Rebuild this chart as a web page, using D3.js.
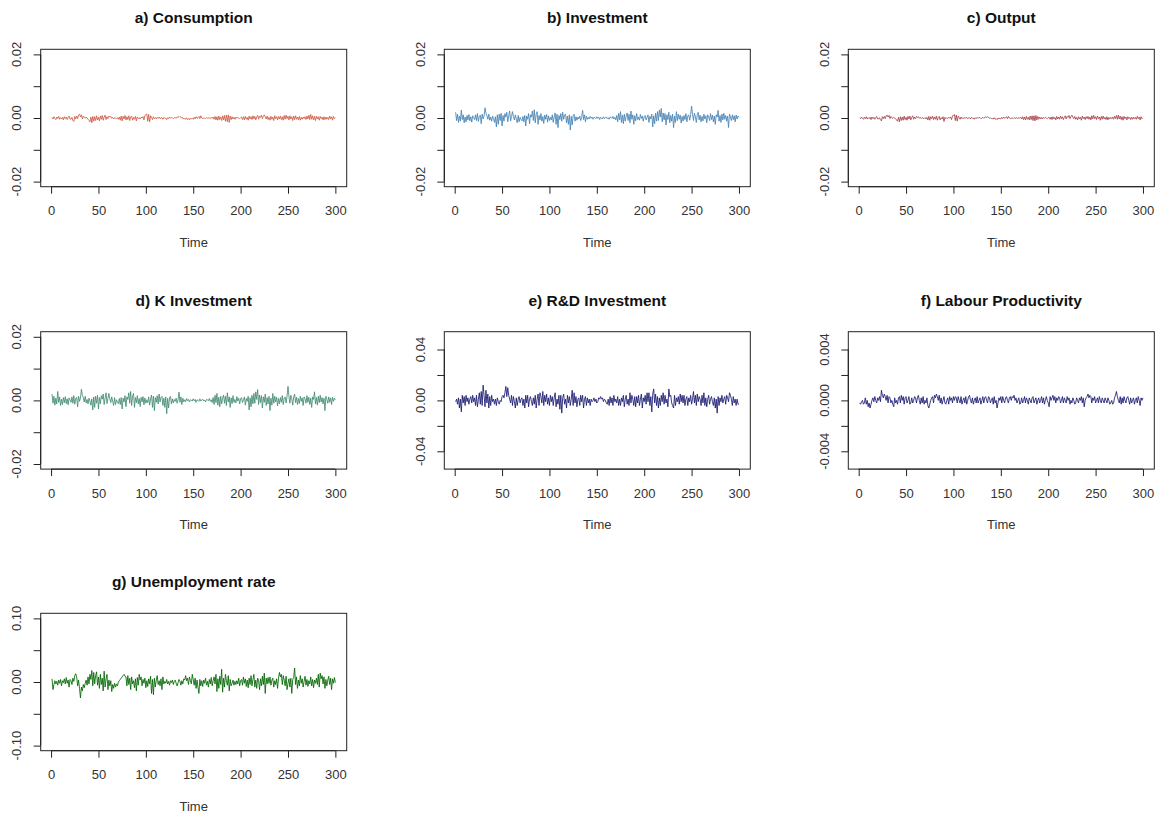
<!DOCTYPE html>
<html><head><meta charset="utf-8">
<script src="https://cdn.jsdelivr.net/npm/d3@7"></script>
<style>
body{margin:0;background:#fff;}
text{font-family:"Liberation Sans",Arial,Helvetica,sans-serif;}
</style>
</head><body>
<svg id="chart" width="1161" height="821"></svg>
<script>
// ---------------- DATA ----------------
const timeFirst = 1, timeLast = 300;
const xTicks = [0, 50, 100, 150, 200, 250, 300];

// a) Consumption, units of 1e-4
const consumptionUnit = 1e-4;
const consumption = [
2,-3,4,-1,-5,3,-2,5,-4,1,
-3,2,-6,4,-2,3,-5,1,6,-3,
-4,2,-8,-11,5,-3,6,-2,9,12,
4,10,-3,6,2,-1,3,0,-4,-7,
-12,3,-15,5,-10,4,-8,7,-6,2,
-9,6,-4,8,-7,3,9,-5,4,-2,
6,3,5,-1,2,-3,1,0,-2,1,
-4,3,-7,6,-9,5,-3,8,-6,4,
-5,7,-8,3,6,-7,2,-4,5,-9,
3,-2,1,-3,2,0,4,-6,8,10,
13,-10,11,-12,7,2,-5,4,-2,1,
-3,2,-1,3,-2,0,1,-4,2,-1,
0,-5,1,-2,3,-1,2,1,-2,0,
2,-1,3,4,2,5,3,-1,1,-3,
-2,-4,1,-5,-2,-6,0,-3,-1,-4,
2,-3,4,-1,1,5,-2,7,0,-2,
-1,0,-2,1,-1,0,1,-2,2,-1,
3,-4,5,-6,4,-7,6,-5,3,-8,
7,-6,8,-10,9,-12,10,-14,6,-5,
4,-3,2,-4,3,-1,2,0,-2,1,
3,-5,4,-6,5,-4,2,-7,6,-3,
4,-5,7,-3,5,-6,3,8,-4,6,
2,9,-2,5,10,4,-3,6,-5,2,
-7,5,-4,3,-8,7,-2,4,-6,5,
-3,6,-5,4,-7,8,-4,9,-2,5,
-6,7,-3,4,-8,6,-5,7,-4,3,
-6,5,-7,2,-4,3,-2,4,-5,6,
-3,9,-5,11,-4,7,-6,5,-8,6,
-3,4,-7,5,-2,3,-6,4,-5,3,
-4,2,-5,6,-3,4,-7,5,-2,1];

// b) Investment, units of 1e-4
const investmentUnit = 1e-4;
const investment = [
18,-8,12,-14,6,-10,25,-5,10,-15,
3,-12,8,-6,11,-9,4,-13,7,2,
-5,10,-8,14,-11,5,9,-18,12,-3,
6,32,15,8,-4,12,-7,3,-10,6,
-2,-14,4,-28,10,-20,12,-8,15,-25,
8,-10,14,3,18,-12,6,22,-9,5,
20,4,-6,10,-3,-15,8,-12,2,-5,
-9,5,-12,8,-25,6,-4,14,-18,10,
3,22,-8,26,-15,12,20,-20,8,-6,
14,-10,5,-17,9,-4,11,-13,7,-8,
2,-6,10,-14,4,16,-20,12,-30,8,
-5,14,-10,18,-4,9,12,-15,6,-20,
10,-38,5,-22,8,12,-10,4,-7,3,
-3,6,-8,2,24,-5,10,-12,6,-4,
2,-3,5,-1,3,-4,2,1,-2,4,
-1,3,-5,2,0,-3,4,-2,1,3,
-2,1,-4,3,2,-1,5,-3,2,-6,
8,-12,15,-6,20,-14,9,-18,12,-10,
6,16,-8,12,-15,22,-4,10,-20,7,
-9,14,-5,3,-7,11,-2,6,-10,4,
8,-6,2,10,-14,5,-3,12,-28,7,
-18,15,-10,20,-8,25,3,30,-12,16,
-6,14,-22,10,-5,18,-15,8,-10,12,
-30,6,-14,20,-8,12,-4,9,-16,5,
-10,8,-5,14,-12,6,10,-7,11,37,
12,-8,15,4,-14,10,18,-6,9,-12,
5,-9,12,-3,7,-15,10,4,-8,14,
-5,9,-12,6,-20,10,3,24,-10,8,
-14,12,-6,15,-4,8,-10,6,-30,12,
3,-8,10,-5,7,-12,9,-3,6,2];

// c) Output, units of 1e-4
const outputUnit = 1e-4;
const output = [
1,-2,3,-1,-4,2,-2,4,-3,1,
-2,2,-5,3,-2,2,-4,1,5,-3,
-3,1,-6,-9,4,-2,5,-2,7,9,
3,8,-2,5,1,-1,2,0,-3,-6,
-10,2,-12,4,-8,3,-7,6,-5,2,
-7,5,-3,6,-6,2,7,-4,3,-2,
5,2,4,-1,2,-2,1,0,-2,1,
-3,2,-6,5,-7,4,-2,6,-5,3,
-4,6,-7,2,5,-6,1,-3,4,-11,
2,-2,1,-2,2,0,3,-5,7,8,
11,-8,9,-10,6,2,-4,3,-2,1,
-2,2,-1,2,-2,0,1,-3,2,-1,
0,-4,1,-2,2,-1,2,1,-2,0,
2,-1,2,3,2,4,2,-1,1,-2,
-2,-3,1,-4,-2,-5,0,-2,-1,-3,
2,-2,3,-1,1,4,-2,5,0,-2,
-1,0,-2,1,-1,0,1,-2,2,-1,
2,-3,4,-5,3,-6,5,-4,2,-6,
6,-5,7,-8,7,-9,8,-6,5,-4,
3,-3,2,-3,2,-1,2,0,-2,1,
2,-4,3,-5,4,-3,2,-6,5,-3,
3,-4,6,-2,4,-5,2,7,-3,5,
2,8,-2,4,9,3,-2,5,-4,2,
-6,4,-3,2,-7,6,-2,3,-5,4,
-2,5,-4,3,-6,7,-3,8,-2,4,
-5,6,-2,3,-7,5,-4,6,-3,2,
-5,4,-6,2,-3,2,-2,3,-4,5,
-2,8,-4,9,-3,6,-5,4,-7,5,
-2,3,-6,4,-2,2,-5,3,-4,2,
-3,2,-4,5,-2,3,-6,4,-2,1];

// d) K Investment, units of 1e-4
const kInvestmentUnit = 1e-4;
const kInvestment = [
20,-9,13,-15,7,-11,28,-6,11,-16,
4,-13,9,-7,12,-10,5,-14,8,2,
-6,11,-9,15,-12,6,10,-20,13,-3,
7,35,16,9,-5,13,-8,3,-11,7,
-2,-15,5,-30,11,-22,13,-9,16,-27,
9,-11,15,4,20,-13,7,24,-10,6,
22,5,-7,11,-3,-16,9,-13,2,-6,
-10,6,-13,9,-27,7,-5,15,-20,11,
3,24,-9,28,-16,13,22,-22,9,-7,
15,-11,6,-19,10,-5,12,-14,8,-9,
2,-7,11,-15,5,17,-22,13,-32,9,
-6,15,-11,20,-5,10,13,-16,7,-22,
11,-42,6,-24,9,13,-11,5,-8,3,
-3,7,-9,2,26,-6,11,-13,7,-5,
2,-4,6,-1,3,-5,2,1,-2,5,
-1,3,-6,2,0,-3,5,-2,1,4,
-2,1,-5,3,2,-1,6,-3,2,-7,
9,-13,16,-7,22,-15,10,-20,13,-11,
7,17,-9,13,-16,24,-5,11,-22,8,
-10,15,-6,3,-8,12,-2,7,-11,5,
9,-7,2,11,-15,6,-3,13,-30,8,
-20,16,-11,22,-9,27,3,34,-13,17,
-7,15,-24,11,-6,20,-16,9,-11,13,
-32,7,-15,22,-9,13,-5,10,-17,6,
-11,9,-6,15,-13,7,11,-8,12,44,
13,-9,16,5,-15,11,20,-7,10,-13,
6,-10,13,-3,8,-16,11,5,-9,15,
-6,10,-13,7,-22,11,3,27,-11,9,
-15,13,-7,16,-5,9,-11,7,-32,13,
3,-9,11,-6,8,-13,10,-3,7,2];

// e) R&D Investment, units of 1e-3
const rdInvestmentUnit = 1e-3;
const rdInvestment = [
-1,1,-3,2,-6,1,-9,4,-2,3,
-4,4,-1,2,-3,1,3,-2,4,-1,
2,-4,4,-5,1,6,-3,7,-4,12,
4,-5,8,-2,5,-6,3,-4,4,-1,
1,-3,1,-4,2,-1,-3,0,-1,3,
4,2,6,11,3,10,4,1,-2,4,
-4,3,-1,-6,2,-4,1,3,-2,1,
2,-4,1,-6,4,-2,4,-5,1,3,
-1,-4,2,-3,4,-6,1,5,-4,6,
3,-2,7,-4,4,-1,5,-3,2,-4,
4,-1,3,-4,2,6,-5,1,-3,4,
-7,4,-10,2,5,-3,1,-6,4,-2,
3,-4,1,8,-4,6,-2,3,-5,1,
2,-4,4,-1,4,-6,1,3,-4,2,
-2,1,-4,1,-1,0,2,-1,1,-2,
-1,2,1,3,1,2,-1,1,0,-2,
-3,1,-4,3,-2,2,-4,4,-1,1,
-2,3,-4,1,-4,2,-1,4,-5,1,
4,-3,1,-4,6,-2,4,1,-4,3,
-5,3,-2,4,-4,1,5,-6,2,-1,
4,-3,6,-1,6,-4,3,-9,5,9,
-2,5,-4,3,-6,2,-4,4,-1,6,
-3,4,-2,1,-5,9,3,4,-2,-4,
-6,4,-4,2,-1,3,-3,5,-1,4,
-2,4,-4,1,3,-4,2,-1,4,-3,
1,7,-2,4,-4,5,-1,3,1,-4,
4,-2,6,-4,2,-5,1,4,-3,1,
3,-1,-4,2,-6,1,-10,3,-4,2,
-1,4,-2,1,3,-3,4,2,-1,6,
4,1,-4,3,-2,1,-4,1,-3,-3];

// f) Labour Productivity, units of 1e-4
const labourProductivityUnit = 1e-4;
const labourProductivity = [
-2,-3,-1,0,-3,-2,2,-3,0,-5,
-2,-6,-3,0,2,-1,3,0,-2,2,
0,3,-1,8,4,2,5,3,0,4,
-2,3,2,-2,0,-3,-5,2,-2,0,
-3,2,3,-2,4,0,3,-3,2,3,
-2,0,3,-3,-2,2,-2,0,3,2,
-2,2,4,0,-3,2,-2,3,-3,0,
-2,2,-4,-6,-3,0,2,3,-2,4,
2,5,3,0,4,-2,2,-3,0,3,
-2,-3,0,2,-3,3,0,2,-2,3,
0,3,2,-2,3,0,-2,3,-3,0,
2,-2,3,-3,0,3,4,0,-2,2,
-3,0,2,-2,3,-2,0,2,-3,0,
3,-2,2,3,0,-2,3,2,-2,0,
2,-3,3,-2,0,-6,-2,2,0,3,
-2,3,0,-2,2,3,0,-2,2,3,
0,3,2,4,0,2,-2,0,2,-3,
-2,2,-2,0,3,-2,2,0,-3,2,
0,-2,2,3,-2,0,2,-3,0,2,
-2,0,3,-2,2,-3,0,3,0,-2,
-5,3,0,2,4,0,3,-2,2,0,
3,2,-2,0,3,-2,2,0,-2,3,
0,2,-3,0,-2,2,0,-3,-2,2,
0,-2,2,0,3,-2,2,-5,0,2,
3,5,2,4,3,-2,2,0,3,-2,
0,2,-2,3,0,-2,2,0,-2,2,
0,-2,2,0,-3,-2,0,-3,-2,2,
4,7,3,0,-2,3,-3,2,-2,3,
0,-2,2,3,0,-3,2,-2,0,2,
-3,0,2,-2,3,0,-4,2,0,2];

// g) Unemployment rate, units of 1e-3
const unemploymentUnit = 1e-3;
const unemployment = [
5,-12,-4,2,-3,1,-5,3,-2,4,
-6,2,-1,5,-3,7,-2,3,-8,4,
2,-4,6,1,10,13,8,-6,3,-10,
-25,-8,-14,-4,-9,-2,3,-5,8,-3,
12,4,18,-6,15,-3,10,16,-5,8,
-10,12,-4,6,-14,17,-8,5,12,-12,
3,-6,2,-15,-4,-10,-2,-8,-3,-6,
0,2,4,6,8,10,12,9,8,-6,
10,-4,6,-12,8,-3,2,-9,5,-14,
7,-5,12,3,8,-6,4,-2,6,-9,
2,-7,5,-3,9,-18,4,-20,6,-8,
3,10,-4,2,-6,5,-12,8,-3,1,
-2,4,-3,1,-5,2,-1,3,-4,1,
3,-2,-6,-1,4,1,-5,2,-3,5,
3,10,2,6,-4,8,2,-3,12,4,
-5,6,-10,3,-8,-18,4,-6,2,-7,
3,-2,6,-5,1,-8,4,-3,7,-6,
2,8,-3,12,-15,5,-10,9,-4,20,
-16,6,-8,12,2,-5,10,-14,4,-6,
-2,3,-5,1,-4,2,-3,6,-6,2,
4,-5,8,-2,5,-7,3,-9,6,-4,
10,-6,4,12,-8,3,-10,6,2,-12,
5,-6,9,-4,14,-18,6,-3,7,-2,
8,-5,3,6,-8,2,-4,5,-10,6,
15,8,12,-4,10,3,-6,9,-12,-2,
5,-8,6,-18,4,7,22,-4,8,-10,
3,-6,10,-2,5,-8,1,9,-5,4,
-7,2,-3,8,-6,4,-9,3,-2,6,
-4,12,-8,14,5,10,-3,8,-10,4,
-6,3,9,-4,6,-12,5,-2,7,-1];

// y axis limits, tick values and tick labels per panel
const ylimSmall = [-0.02, 0.02];
const ticksSmall = [-0.02, -0.01, 0, 0.01, 0.02];
const labelsSmall = {"-0.02": "-0.02", "0": "0.00", "0.02": "0.02"};
const ylimRD = [-0.05, 0.05];
const ticksRD = [-0.04, -0.02, 0, 0.02, 0.04];
const labelsRD = {"-0.04": "-0.04", "0": "0.00", "0.04": "0.04"};
const ylimLP = [-0.005, 0.005];
const ticksLP = [-0.004, -0.002, 0, 0.002, 0.004];
const labelsLP = {"-0.004": "-0.004", "0": "0.000", "0.004": "0.004"};
const ylimU = [-0.1, 0.1];
const ticksU = [-0.1, -0.05, 0, 0.05, 0.1];
const labelsU = {"-0.1": "-0.10", "0": "0.00", "0.1": "0.10"};

const panels = [
  {title: "a) Consumption", values: consumption, unit: consumptionUnit, color: "#CD5B45", ylim: ylimSmall, ticks: ticksSmall, labels: labelsSmall, col: 0, row: 0},
  {title: "b) Investment", values: investment, unit: investmentUnit, color: "#4682B4", ylim: ylimSmall, ticks: ticksSmall, labels: labelsSmall, col: 1, row: 0},
  {title: "c) Output", values: output, unit: outputUnit, color: "#A8414A", ylim: ylimSmall, ticks: ticksSmall, labels: labelsSmall, col: 2, row: 0},
  {title: "d) K Investment", values: kInvestment, unit: kInvestmentUnit, color: "#458B74", ylim: ylimSmall, ticks: ticksSmall, labels: labelsSmall, col: 0, row: 1},
  {title: "e) R&D Investment", values: rdInvestment, unit: rdInvestmentUnit, color: "#191970", ylim: ylimRD, ticks: ticksRD, labels: labelsRD, col: 1, row: 1},
  {title: "f) Labour Productivity", values: labourProductivity, unit: labourProductivityUnit, color: "#191970", ylim: ylimLP, ticks: ticksLP, labels: labelsLP, col: 2, row: 1},
  {title: "g) Unemployment rate", values: unemployment, unit: unemploymentUnit, color: "#006400", ylim: ylimU, ticks: ticksU, labels: labelsU, col: 0, row: 2}
];

// ---------------- LAYOUT ----------------
const colLeft = [40.7, 444.3, 848.3];
const rowTop = [49.3, 331.7, 613.3];
const boxW = 306, boxH = 137.4;
const ink = "#222";
const time = d3.range(timeFirst, timeLast + 1);

const svg = d3.select("#chart");
svg.append("rect").attr("width", 1161).attr("height", 821).attr("fill", "#fff");

function ext(lo, hi) { const r = hi - lo; return [lo - 0.04 * r, hi + 0.04 * r]; }

panels.forEach(p => {
  const left = colLeft[p.col], top = rowTop[p.row];
  const x = d3.scaleLinear().domain(ext(timeFirst, timeLast)).range([left, left + boxW]);
  const y = d3.scaleLinear().domain(ext(p.ylim[0], p.ylim[1])).range([top + boxH, top]);
  const g = svg.append("g");

  // series line
  const line = d3.line().x((d, i) => x(time[i])).y(d => y(d * p.unit));
  g.append("path").datum(p.values).attr("d", line)
    .attr("fill", "none").attr("stroke", p.color).attr("stroke-width", 0.85)
    .attr("stroke-linejoin", "round");

  // box
  g.append("rect").attr("x", left).attr("y", top).attr("width", boxW).attr("height", boxH)
    .attr("fill", "none").attr("stroke", ink).attr("stroke-width", 1);

  // x axis
  const xa = g.append("g").attr("transform", `translate(0,${top + boxH})`)
    .call(d3.axisBottom(x).tickValues(xTicks).tickSize(7).tickSizeOuter(0).tickFormat(d3.format("d")));
  xa.select(".domain").attr("d", `M${x(xTicks[0])},0H${x(xTicks[xTicks.length - 1])}`).attr("stroke", ink);
  xa.selectAll(".tick line").attr("stroke", ink);
  xa.selectAll(".tick text").attr("y", 24).attr("dy", "0.35em")
    .attr("font-size", 13).attr("fill", "#333")
    .attr("font-family", "'Liberation Sans', Arial, sans-serif");

  // y axis
  const ya = g.append("g").attr("transform", `translate(${left},0)`)
    .call(d3.axisLeft(y).tickValues(p.ticks).tickSize(7).tickSizeOuter(0).tickFormat(() => ""));
  ya.select(".domain").attr("d", `M0,${y(p.ticks[0])}V${y(p.ticks[p.ticks.length - 1])}`).attr("stroke", ink);
  ya.selectAll(".tick line").attr("stroke", ink);
  p.ticks.forEach(v => {
    const lab = p.labels[String(v)];
    if (!lab) return;
    g.append("text")
      .attr("transform", `translate(${left - 24},${y(v)}) rotate(-90)`)
      .attr("text-anchor", "middle").attr("dy", "0.35em")
      .attr("font-size", 13).attr("fill", "#333").text(lab);
  });

  // title
  g.append("text").attr("x", left + boxW / 2).attr("y", top - 31.3).attr("dy", "0.35em")
    .attr("text-anchor", "middle").attr("font-size", 15.5).attr("font-weight", "bold")
    .attr("fill", "#111").text(p.title);

  // x label
  g.append("text").attr("x", left + boxW / 2).attr("y", top + boxH + 55.5).attr("dy", "0.35em")
    .attr("text-anchor", "middle").attr("font-size", 13).attr("fill", "#333").text("Time");
});
</script>
</body></html>
